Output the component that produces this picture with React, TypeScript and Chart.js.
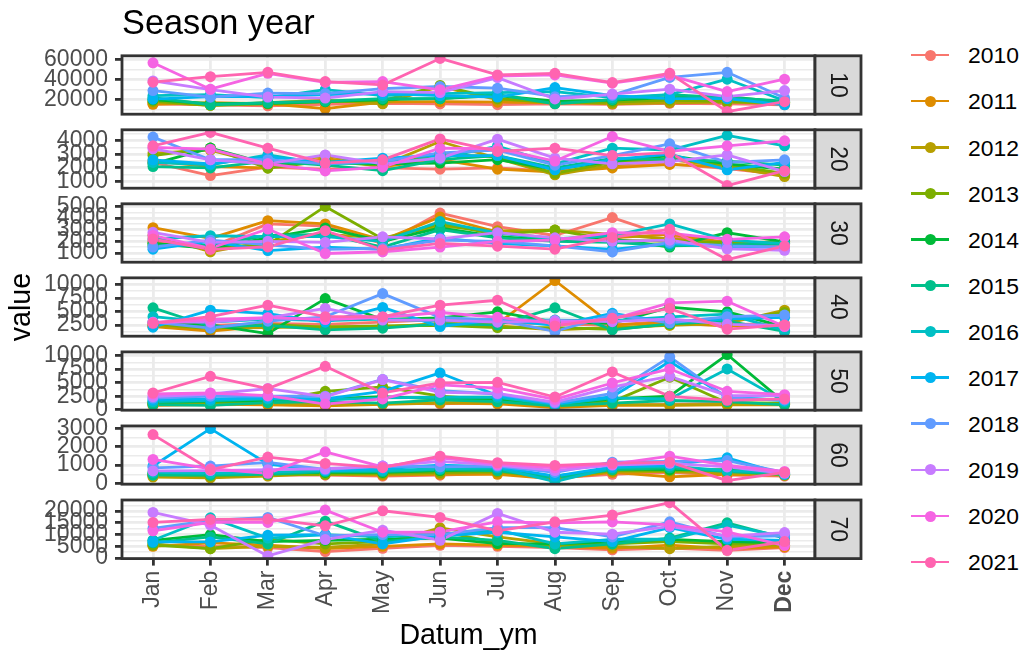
import React, { useEffect, useRef } from 'react';
import { Chart, registerables } from 'chart.js';

Chart.register(...registerables);

// ---------- data ----------
const months = ['Jan', 'Feb', 'Mar', 'Apr', 'May', 'Jun', 'Jul', 'Aug', 'Sep', 'Oct', 'Nov', 'Dec'];
const years = ['2010', '2011', '2012', '2013', '2014', '2015', '2016', '2017', '2018', '2019', '2020', '2021'];
const facetLabels = ['10', '20', '30', '40', '50', '60', '70'];
const majorSteps = [20000, 1000, 1000, 2500, 2500, 1000, 5000];

// one row per year (2010..2021), one value per month (Jan..Dec)
const values10 = [
  [16000, 15000, 14000, 15500, 16500, 15800, 15100, 16000, 15500, 16500, 16000, 15000],
  [15500, 17000, 16000, 11200, 17500, 18000, 17500, 17000, 16500, 17500, 18500, 17500],
  [17500, 14500, 17000, 19500, 16000, 33000, 20000, 18000, 16000, 17000, 17500, 16500],
  [18500, 14500, 16000, 18000, 19000, 34000, 21000, 17000, 17500, 19500, 18000, 17000],
  [20000, 16000, 16500, 18000, 20000, 21000, 24000, 18500, 19500, 22000, 23000, 17500],
  [22000, 15000, 17000, 18500, 21000, 21000, 25000, 16000, 20000, 25000, 22000, 18500],
  [24000, 25000, 22000, 30000, 24000, 26000, 27000, 28000, 22000, 25000, 40200, 19000],
  [20500, 23000, 23000, 25000, 26000, 24000, 22600, 32000, 24000, 21000, 21000, 15000],
  [29000, 22500, 26500, 26000, 31000, 33000, 31400, 23000, 24500, 42000, 47000, 21600],
  [38500, 30000, 22600, 21600, 28000, 27000, 41800, 20700, 25500, 30400, 23000, 29000],
  [56400, 30400, 46000, 37000, 37900, 29800, 43400, 44400, 36300, 44000, 28000, 40200],
  [37300, 42700, 47000, 37900, 34600, 60700, 44400, 46000, 36900, 46000, 8300, 18000],
];
const values20 = [
  [2400, 1440, 2050, 1900, 2000, 1910, 2000, 1750, 2100, 2300, 1950, 1500],
  [2500, 2100, 2000, 2700, 2100, 2600, 1910, 1700, 2000, 2250, 2050, 1450],
  [3080, 3300, 2200, 2900, 2200, 3930, 2700, 1490, 2200, 2600, 2100, 1370],
  [2900, 3450, 1980, 2500, 2150, 3000, 2800, 1600, 2400, 2700, 2200, 1600],
  [2300, 3450, 2300, 2400, 2300, 2350, 2600, 1900, 2500, 2900, 2300, 1900],
  [2100, 2000, 2500, 2200, 1800, 2600, 2900, 2000, 2700, 2600, 2500, 2200],
  [2400, 2220, 2950, 2300, 2400, 2700, 3600, 2300, 3440, 3300, 4370, 3610],
  [2590, 2300, 2800, 2400, 2710, 2900, 2900, 1860, 2600, 3000, 1860, 2400],
  [4250, 2600, 2600, 2300, 2500, 3100, 3300, 2200, 2900, 3760, 2400, 2590],
  [3400, 2590, 2300, 2950, 2300, 2710, 4100, 2710, 2300, 2460, 2950, 1730],
  [3500, 3370, 2300, 1780, 2050, 3440, 3400, 2500, 4290, 3200, 3610, 3980],
  [3610, 4590, 3440, 2350, 2590, 4120, 3200, 3440, 2900, 3120, 710, 1800],
];
const values30 = [
  [2000, 1500, 3500, 3300, 1800, 4430, 3260, 2500, 4040, 2400, 1700, 1700],
  [3170, 2250, 3780, 3500, 2100, 4100, 2800, 2200, 2300, 2600, 1900, 1800],
  [2500, 1100, 2000, 2600, 2300, 3300, 2900, 2970, 2600, 2200, 1800, 2000],
  [1800, 1500, 1700, 5000, 2200, 3500, 2600, 2970, 2100, 2000, 1900, 1900],
  [1810, 1400, 2300, 3150, 2000, 3150, 2400, 2100, 2200, 1500, 2740, 1960],
  [1600, 1700, 2500, 2600, 1500, 3000, 2300, 2000, 1900, 1600, 1700, 1800],
  [2200, 2480, 2400, 2400, 2000, 3700, 2700, 2200, 2500, 3500, 2100, 1800],
  [1320, 2000, 1200, 1500, 1300, 2300, 1800, 1600, 1300, 1800, 1500, 1500],
  [1500, 2100, 1700, 1300, 1400, 2100, 2000, 1600, 1090, 1900, 1600, 1500],
  [2770, 1900, 2000, 1900, 2390, 2200, 2740, 2300, 2000, 2100, 1350, 1230],
  [2500, 1400, 3060, 950, 1100, 1500, 2000, 2100, 2740, 2700, 2170, 2390],
  [2190, 1300, 1520, 2910, 1270, 1820, 1580, 1320, 2330, 3030, 430, 1600],
];
const values40 = [
  [2500, 2400, 2800, 2600, 3000, 3500, 2900, 2700, 2400, 3300, 2600, 2700],
  [2200, 1350, 2300, 1900, 2100, 2800, 2700, 10730, 2500, 2900, 2300, 2400],
  [2300, 1900, 2000, 2200, 2200, 2600, 2300, 1600, 2000, 2400, 2800, 5240],
  [2700, 1800, 2600, 2100, 2300, 2400, 2000, 2000, 1700, 2600, 3300, 4800],
  [3000, 2500, 900, 7380, 3500, 3800, 4930, 3000, 2800, 5800, 4930, 2200],
  [5670, 2200, 2400, 1590, 1900, 2700, 2500, 5670, 1590, 2700, 3200, 1280],
  [4020, 3000, 3600, 3300, 3600, 3200, 3500, 3400, 3300, 4000, 4500, 1500],
  [2080, 5240, 4600, 3000, 5740, 2190, 3500, 2400, 4640, 3000, 3600, 3900],
  [3000, 1900, 3200, 4000, 8300, 3900, 3400, 1280, 4400, 2900, 4020, 4330],
  [3000, 3000, 3800, 5550, 3400, 3400, 3000, 3300, 3100, 3600, 2600, 2400],
  [2900, 3500, 3840, 3500, 3900, 4800, 3900, 2800, 3600, 6580, 6890, 2190],
  [2810, 4020, 6160, 4020, 4020, 6160, 7070, 2320, 3730, 5550, 1710, 2500],
];
const values50 = [
  [900, 900, 1000, 800, 1200, 1100, 1300, 600, 900, 1000, 1200, 1100],
  [800, 1000, 900, 700, 1000, 1230, 1100, 400, 800, 800, 900, 900],
  [1000, 1100, 1200, 900, 1100, 1300, 1400, 600, 1000, 900, 1000, 1000],
  [1200, 1400, 1500, 3400, 4200, 2500, 1800, 900, 1500, 6000, 1300, 1200],
  [1300, 1600, 1700, 2000, 2400, 2000, 2000, 900, 2000, 2500, 10190, 1300],
  [930, 800, 1300, 1500, 1200, 1800, 1500, 700, 1200, 1700, 1500, 900],
  [1500, 1700, 2000, 1800, 2200, 2300, 2300, 1000, 2200, 1980, 7530, 1500],
  [1800, 2000, 2200, 2000, 3400, 6790, 2600, 1100, 2400, 8900, 2300, 1700],
  [2160, 2500, 2500, 2500, 5600, 3500, 2900, 1200, 3000, 9750, 2200, 1800],
  [2400, 2900, 3900, 2400, 5560, 3200, 3000, 1400, 4200, 6170, 2600, 2600],
  [2900, 3090, 2600, 1050, 2000, 4600, 4000, 1900, 4940, 7530, 3400, 2780],
  [3090, 6170, 3890, 8020, 3090, 4940, 5060, 2350, 6980, 2470, 1730, 2000],
];
const values60 = [
  [400, 350, 450, 450, 400, 450, 550, 300, 500, 600, 450, 400],
  [450, 400, 500, 500, 450, 500, 500, 250, 600, 360, 500, 450],
  [350, 300, 400, 550, 500, 550, 600, 300, 650, 650, 550, 500],
  [500, 400, 500, 500, 550, 600, 650, 350, 700, 700, 700, 450],
  [550, 500, 550, 600, 600, 700, 750, 400, 800, 750, 750, 550],
  [450, 450, 500, 650, 650, 750, 700, 300, 750, 850, 650, 500],
  [600, 550, 600, 700, 700, 800, 850, 100, 850, 950, 700, 600],
  [950, 3000, 1060, 700, 800, 1000, 900, 400, 900, 1000, 1400, 500],
  [850, 950, 1150, 760, 950, 900, 950, 600, 1160, 1200, 1250, 600],
  [680, 700, 750, 800, 950, 1200, 1000, 700, 1000, 1100, 900, 550],
  [1310, 800, 550, 1730, 900, 1400, 1050, 850, 1050, 1490, 980, 650],
  [2670, 750, 1440, 1090, 860, 1490, 1130, 980, 1100, 1160, 150, 600],
];
const values70 = [
  [5500, 5000, 4500, 2740, 4150, 5440, 5000, 4500, 3500, 4200, 3300, 4500],
  [5010, 6500, 5500, 4000, 5000, 6000, 5500, 5000, 4150, 5500, 4000, 4800],
  [6000, 4010, 5000, 4500, 6000, 12860, 9000, 6000, 5000, 4010, 5000, 5500],
  [5500, 4010, 8000, 6000, 7000, 11500, 6500, 5500, 6000, 7000, 6000, 6000],
  [7500, 10000, 7000, 7500, 8000, 8500, 6170, 6000, 7000, 8000, 7000, 6500],
  [6500, 9000, 6000, 15730, 7000, 9000, 7500, 4010, 6000, 8500, 15000, 8500],
  [7590, 17150, 8500, 10000, 9000, 10000, 12000, 6000, 8000, 8000, 14000, 9000],
  [6860, 6860, 9730, 10000, 6000, 9500, 11000, 9000, 7000, 13000, 8000, 7500],
  [12600, 16000, 17300, 9500, 10000, 10000, 13000, 13000, 9000, 15430, 9000, 9500],
  [19440, 14000, 900, 7870, 11870, 7590, 19030, 11000, 10160, 13500, 9300, 10870],
  [11600, 15170, 15170, 20440, 11000, 11150, 15430, 15000, 15430, 14100, 11150, 5300],
  [15170, 16450, 16600, 13720, 20150, 17300, 11580, 15430, 18300, 23600, 3300, 7000],
];
const panelValues = [values10, values20, values30, values40, values50, values60, values70];

// ---------- styling / layout ----------
const yearColors = ['#F8766D', '#DE8C00', '#B79F00', '#7CAE00', '#00BA38', '#00C08B', '#00BFC4', '#00B4F0', '#619CFF', '#C77CFF', '#F564E3', '#FF64B0'];
const FONT = '"Liberation Sans", Arial, Helvetica, sans-serif';
const PLOT_LEFT = 122;
const PLOT_RIGHT = 815;
const STRIP_W = 46;
const CANVAS_W = 870;
const PANEL_TOP0 = 55.7;
const PANEL_PITCH = 74.05;
const PANEL_H = 58.6;
const PAD = 20;
const X_AXIS_H = 62;
const LINE_W = 2.8;

Chart.defaults.font.family = FONT;

function panelGeom(k: number) {
  const isLast = k === panelValues.length - 1;
  const panelTop = PANEL_TOP0 + k * PANEL_PITCH;
  const canvasTop = Math.floor(panelTop) - PAD;
  const padTop = panelTop - canvasTop;
  const xh = isLast ? X_AXIS_H : 0;
  const height = Math.ceil(padTop + PANEL_H + xh + PAD);
  const padBottom = height - padTop - PANEL_H - xh;
  return { isLast, canvasTop, padTop, padBottom, height };
}

const decorPlugin = {
  id: 'facetDecor',
  afterDatasetsDraw(chart: any) {
    const { ctx, chartArea: a } = chart;
    const label = chart.options.plugins.facetDecor.label;
    ctx.save();
    ctx.lineWidth = LINE_W;
    ctx.strokeStyle = '#333333';
    ctx.strokeRect(a.left, a.top, a.right - a.left, a.bottom - a.top);
    ctx.fillStyle = '#D9D9D9';
    ctx.fillRect(a.right, a.top, STRIP_W, a.bottom - a.top);
    ctx.strokeRect(a.right, a.top, STRIP_W, a.bottom - a.top);
    ctx.translate(a.right + STRIP_W / 2, (a.top + a.bottom) / 2);
    ctx.rotate(Math.PI / 2);
    ctx.fillStyle = '#1A1A1A';
    ctx.font = `23px ${FONT}`;
    ctx.textAlign = 'center';
    ctx.textBaseline = 'middle';
    ctx.fillText(label, 0, 1);
    ctx.restore();
  },
};

function makeConfig(k: number): any {
  const g = panelGeom(k);
  const vals = panelValues[k];
  const major = majorSteps[k];
  const half = major / 2;
  const all = vals.flat();
  const lo = Math.min(...all);
  const hi = Math.max(...all);
  const ex = (hi - lo) * 0.05;
  const isMajor = (v: number) => Math.abs(v % major) < 1e-6;

  const lineSets = years.map((yr, i) => ({
    label: yr,
    data: vals[i].map((v, j) => ({ x: j, y: v })),
    borderColor: yearColors[i],
    backgroundColor: yearColors[i],
    borderWidth: LINE_W,
    borderJoinStyle: 'round',
    pointRadius: 0,
    pointHoverRadius: 0,
    fill: false,
    tension: 0,
    order: 200 - i,
  }));
  const pointSets = years.map((yr, i) => ({
    label: yr + ' points',
    data: vals[i].map((v, j) => ({ x: j, y: v })),
    borderColor: yearColors[i],
    backgroundColor: yearColors[i],
    showLine: false,
    pointRadius: 5.5,
    pointHoverRadius: 5.5,
    pointBorderWidth: 0,
    pointBackgroundColor: yearColors[i],
    order: 100 - i,
  }));

  return {
    type: 'line',
    data: { datasets: [...lineSets, ...pointSets] },
    plugins: [decorPlugin],
    options: {
      animation: false,
      responsive: false,
      maintainAspectRatio: false,
      events: [],
      layout: { padding: { left: 0, right: CANVAS_W - PLOT_RIGHT, top: g.padTop, bottom: g.padBottom } },
      plugins: {
        legend: { display: false },
        tooltip: { enabled: false },
        title: { display: false },
        facetDecor: { label: facetLabels[k] },
      },
      scales: {
        x: {
          type: 'linear',
          min: -0.54,
          max: 11.53,
          afterBuildTicks: (s: any) => {
            s.ticks = months.map((_, i) => ({ value: i }));
          },
          afterFit: (s: any) => {
            s.height = g.isLast ? X_AXIS_H : 0;
          },
          border: { display: false },
          grid: {
            color: '#EBEBEB',
            lineWidth: LINE_W,
            drawTicks: g.isLast,
            tickLength: 7,
            tickColor: '#333333',
            tickWidth: LINE_W,
          },
          ticks: {
            display: g.isLast,
            autoSkip: false,
            minRotation: 90,
            maxRotation: 90,
            padding: 5,
            color: '#4D4D4D',
            font: (c: any) => ({ size: 23, family: FONT, weight: c.tick && c.tick.value === 11 ? 'bold' : 'normal' }),
            callback: (v: any) => months[Math.round(v)] ?? '',
          },
        },
        y: {
          type: 'linear',
          min: lo - ex,
          max: hi + ex,
          afterBuildTicks: (s: any) => {
            const t: any[] = [];
            for (let v = Math.ceil(s.min / half) * half; v <= s.max; v += half) t.push({ value: v });
            s.ticks = t;
          },
          afterFit: (s: any) => {
            s.width = PLOT_LEFT;
          },
          border: { display: false },
          grid: {
            color: '#EBEBEB',
            lineWidth: (c: any) => (c.tick && isMajor(c.tick.value) ? LINE_W : LINE_W / 2),
            drawTicks: true,
            tickLength: 7,
            tickColor: (c: any) => (c.tick && isMajor(c.tick.value) ? '#333333' : 'rgba(0,0,0,0)'),
            tickWidth: LINE_W,
          },
          ticks: {
            autoSkip: false,
            padding: 7,
            color: '#4D4D4D',
            font: { size: 23, family: FONT },
            callback: (v: any) => (isMajor(v) ? String(v) : ''),
          },
        },
      },
    },
  };
}

export default function App() {
  const refs = useRef<(HTMLCanvasElement | null)[]>([]);

  useEffect(() => {
    const charts: Chart[] = [];
    panelValues.forEach((_, k) => {
      const c = refs.current[k];
      if (c) charts.push(new Chart(c, makeConfig(k)));
    });
    return () => charts.forEach((ch) => ch.destroy());
  }, []);

  const textBase: React.CSSProperties = { position: 'absolute', fontFamily: FONT, whiteSpace: 'nowrap', margin: 0 };

  return (
    <div style={{ position: 'absolute', left: 0, top: 0, width: 1026, height: 655, background: '#FFFFFF', overflow: 'hidden' }}>
      {panelValues.map((_, k) => {
        const g = panelGeom(k);
        return (
          <canvas
            key={k}
            ref={(el) => {
              refs.current[k] = el;
            }}
            width={CANVAS_W}
            height={g.height}
            style={{ position: 'absolute', left: 0, top: g.canvasTop, width: CANVAS_W, height: g.height }}
          />
        );
      })}
      <div style={{ ...textBase, left: 122, top: 2, fontSize: 34.3, lineHeight: '40px', color: '#000' }}>Season year</div>
      <div style={{ ...textBase, left: 318.5, width: 300, top: 617, textAlign: 'center', fontSize: 28.6, lineHeight: '34px', color: '#000' }}>Datum_ym</div>
      <div
        style={{
          ...textBase,
          left: 20 - 100,
          top: 307 - 17,
          width: 200,
          height: 34,
          textAlign: 'center',
          fontSize: 28.6,
          lineHeight: '34px',
          color: '#000',
          transform: 'rotate(-90deg)',
        }}
      >
        value
      </div>
      {years.map((yr, i) => {
        const cy = 55 + i * 46.1;
        return (
          <React.Fragment key={yr}>
            <div style={{ position: 'absolute', left: 911, top: cy - LINE_W / 2, width: 38, height: LINE_W, background: yearColors[i] }} />
            <div style={{ position: 'absolute', left: 930 - 5.5, top: cy - 5.5, width: 11, height: 11, borderRadius: '50%', background: yearColors[i] }} />
            <div style={{ ...textBase, left: 968, top: cy - 13.7, fontSize: 22.9, lineHeight: '28px', color: '#000' }}>{yr}</div>
          </React.Fragment>
        );
      })}
    </div>
  );
}
